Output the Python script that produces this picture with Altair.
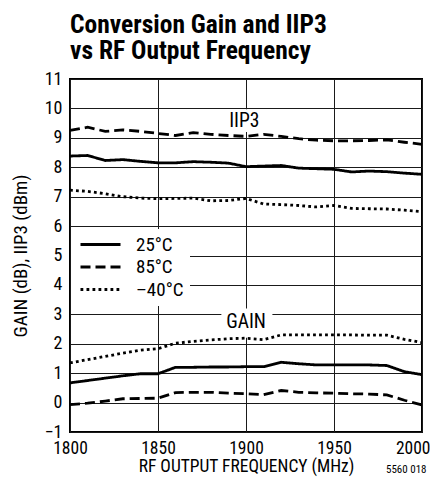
import altair as alt
import pandas as pd

freqs = [1800, 1810, 1820, 1830, 1840, 1850, 1860, 1870, 1880, 1890, 1900,
         1910, 1920, 1930, 1940, 1950, 1960, 1970, 1980, 1990, 2000]

iip3_85 = [9.25, 9.36, 9.22, 9.27, 9.22, 9.15, 9.08, 9.18, 9.12, 9.08, 9.05,
           9.12, 9.05, 8.97, 8.92, 8.90, 8.90, 8.91, 8.93, 8.85, 8.78]
iip3_25 = [8.38, 8.40, 8.23, 8.26, 8.20, 8.15, 8.15, 8.19, 8.17, 8.14, 8.02,
           8.04, 8.06, 7.97, 7.95, 7.93, 7.84, 7.87, 7.85, 7.80, 7.76]
iip3_m40 = [7.22, 7.18, 7.10, 7.00, 6.95, 6.93, 6.94, 6.95, 6.86, 6.87, 6.94,
            6.75, 6.73, 6.70, 6.65, 6.70, 6.60, 6.59, 6.58, 6.54, 6.49]
gain_m40 = [1.35, 1.46, 1.57, 1.68, 1.78, 1.83, 2.02, 2.08, 2.13, 2.17, 2.19,
            2.14, 2.30, 2.30, 2.30, 2.30, 2.30, 2.29, 2.29, 2.15, 2.04]
gain_25 = [0.67, 0.75, 0.83, 0.91, 0.98, 0.98, 1.20, 1.20, 1.21, 1.21, 1.22,
           1.22, 1.37, 1.32, 1.28, 1.28, 1.28, 1.28, 1.26, 1.05, 0.95]
gain_85 = [-0.07, -0.02, 0.05, 0.13, 0.14, 0.15, 0.34, 0.35, 0.35, 0.32, 0.30,
           0.27, 0.41, 0.35, 0.33, 0.32, 0.30, 0.29, 0.26, 0.08, -0.08]

temps = ["25°C", "85°C", "–40°C"]
x_ticks = [1800, 1850, 1900, 1950, 2000]
y_ticks = list(range(-1, 12))

title_lines = ["Conversion Gain and IIP3", "vs RF Output Frequency"]
footnote = ["5560 018"]

ann_text = ["IIP3", "GAIN"]
ann_x = [1899, 1900]
ann_y = [9.56, 2.74]
box_x1 = [1885, 1886]
box_x2 = [1913, 1915]
box_y1 = [9.2, 2.2]
box_y2 = [9.97, 3.2]

FONT = "'Roboto Condensed', 'DejaVu Sans Condensed', Roboto, sans-serif"

rows = []
for curve, temp, vals in [("IIP3", "25°C", iip3_25), ("IIP3", "85°C", iip3_85),
                          ("IIP3", "–40°C", iip3_m40), ("GAIN", "25°C", gain_25),
                          ("GAIN", "85°C", gain_85), ("GAIN", "–40°C", gain_m40)]:
    for f, v in zip(freqs, vals):
        rows.append({"freq": f, "val": v, "temp": temp, "curve": curve + temp})
df = pd.DataFrame(rows)

ann = pd.DataFrame({"t": ann_text, "x": ann_x, "y": ann_y,
                    "x1": box_x1, "x2": box_x2, "y1": box_y1, "y2": box_y2})

xscale = alt.Scale(domain=[1800, 2000], nice=False, zero=False)
yscale = alt.Scale(domain=[-1, 11], nice=False, zero=False)

x_axis = alt.Axis(values=x_ticks, title="RF OUTPUT FREQUENCY (MHz)", format="d",
                  tickSize=0, domain=False, grid=True, gridColor="#1a1a1a",
                  gridWidth=1, labelFont=FONT, labelFontSize=17.5,
                  labelColor="black", labelPadding=7, titleFont=FONT,
                  titleFontSize=17.5, titleFontWeight="normal",
                  titleColor="black", titlePadding=1, labelFlush=False,
                  labelAlign={"condition": {"test": "datum.value == 2000",
                                            "value": "right"},
                              "value": "center"},
                  labelOffset={"condition": {"test": "datum.value == 2000",
                                             "value": 8},
                               "value": 0})
y_axis = alt.Axis(values=y_ticks, title="GAIN (dB), IIP3 (dBm)", tickSize=0,
                  domain=False, grid=True, gridColor="#1a1a1a", gridWidth=1,
                  labelFont=FONT, labelFontSize=18, labelColor="black",
                  labelPadding=8, titleFont=FONT, titleFontSize=19,
                  titleFontWeight="normal", titleColor="black", titlePadding=14,
                  labelFlush=False)

lines = alt.Chart(df).mark_line(color="black", strokeWidth=2.8, strokeCap="butt").encode(
    x=alt.X("freq:Q", scale=xscale, axis=x_axis),
    y=alt.Y("val:Q", scale=yscale, axis=y_axis),
    detail="curve:N",
    strokeDash=alt.StrokeDash(
        "temp:N",
        scale=alt.Scale(domain=temps, range=[[1, 0], [10, 5], [2.8, 3.2]]),
        legend=alt.Legend(title=None, orient="none", legendX=1, legendY=150,
                          symbolType="M-1.2,0H6.8", symbolSize=100,
                          symbolStrokeWidth=2.8, symbolStrokeColor="black",
                          labelFont=FONT, labelFontSize=19, labelColor="black",
                          fillColor="white", padding=6, rowPadding=2.5,
                          labelOffset=40),
    ),
)

boxes = alt.Chart(ann).mark_rect(color="white").encode(
    x=alt.X("x1:Q", scale=xscale, axis=x_axis), x2="x2:Q",
    y=alt.Y("y1:Q", scale=yscale, axis=y_axis), y2="y2:Q",
)

labels = alt.Chart(ann).mark_text(font=FONT, fontSize=19.5, color="black").encode(
    x=alt.X("x:Q", scale=xscale, axis=x_axis),
    y=alt.Y("y:Q", scale=yscale, axis=y_axis),
    text="t:N",
)

foot = alt.Chart(pd.DataFrame({"t": footnote})).mark_text(
    font=FONT, fontSize=11, color="black", align="left", baseline="middle"
).encode(x=alt.value(316), y=alt.value(391), text="t:N")

title1 = alt.Chart(pd.DataFrame({"t": title_lines[:1]})).mark_text(
    font=FONT, fontSize=25.5, fontWeight="bold", color="black", align="left",
    baseline="alphabetic"
).encode(x=alt.value(0), y=alt.value(-46), text="t:N")
title2 = alt.Chart(pd.DataFrame({"t": title_lines[1:]})).mark_text(
    font=FONT, fontSize=25.5, fontWeight="bold", color="black", align="left",
    baseline="alphabetic"
).encode(x=alt.value(0), y=alt.value(-20.5), text="t:N")

chart = alt.layer(boxes, lines, labels, foot, title1, title2).properties(
    width=352, height=353,
    autosize=alt.AutoSizeParams(type="none"),
    padding={"left": 62, "top": 71, "right": 8, "bottom": 46},
    background="white",
).configure_view(stroke="black", strokeWidth=2)

chart.save("out.html", embed_options={"renderer": "svg", "actions": False})
